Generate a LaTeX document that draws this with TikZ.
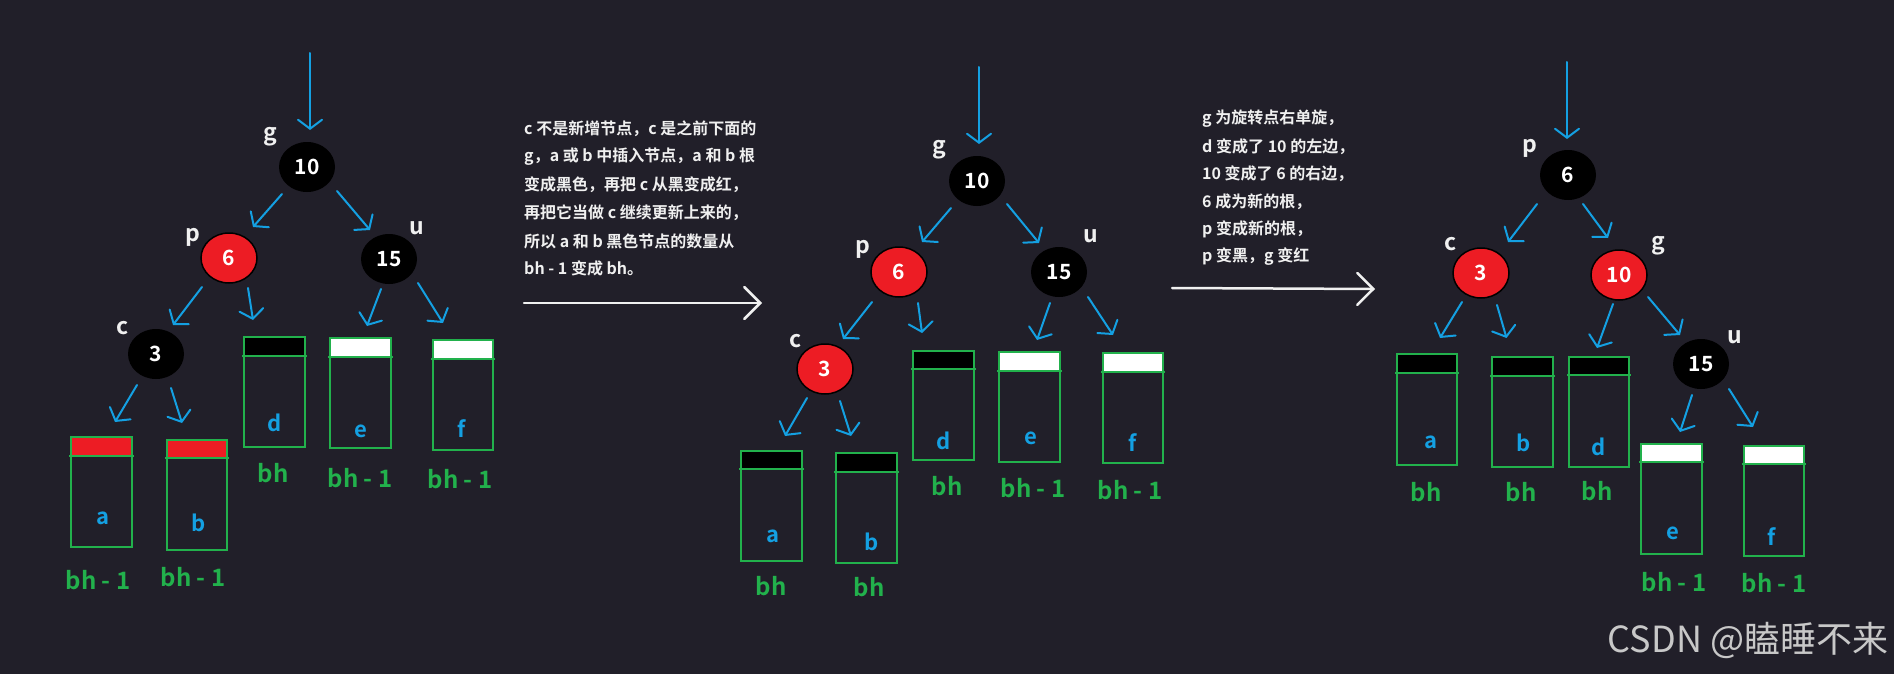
\documentclass[tikz,border=0pt]{standalone}
\usepackage{fontspec}
\setmainfont{Noto Sans CJK SC}[BoldFont={Noto Sans CJK SC Bold}]
\usetikzlibrary{arrows.meta,calc,shapes.geometric}
\definecolor{bgc}{RGB}{33,31,41}
\definecolor{ablue}{RGB}{20,160,226}
\definecolor{lgreen}{RGB}{34,177,76}
\definecolor{nred}{RGB}{237,28,36}
\definecolor{txtw}{RGB}{240,240,240}
\definecolor{wmgray}{RGB}{200,200,200}
\tikzset{
  rbnode/.style={ellipse, minimum width=56pt, minimum height=50pt, inner sep=0pt, text=white,
    font=\fontsize{21}{21}\selectfont\bfseries},
  blk/.style={rbnode, fill=black},
  rd/.style={rbnode, fill=nred, draw=black, line width=1.5pt},
  lab/.style={text=txtw, inner sep=0pt, font=\fontsize{23}{23}\selectfont\bfseries},
  leaf/.style={rectangle, draw=lgreen, line width=2.5pt, outer sep=0pt, inner sep=0pt},
  lett/.style={text=ablue, inner sep=0pt, font=\fontsize{22}{22}\selectfont\bfseries},
  bhl/.style={text=lgreen, inner sep=0pt, font=\fontsize{24}{24}\selectfont\bfseries},
  arr/.style={draw=ablue, line width=2pt, line cap=round, -{Straight Barb[length=9pt,width=24pt,line cap=round]}},
  warr/.style={draw=txtw, line width=2.5pt, line cap=round, -{Straight Barb[length=16pt,width=32pt,line cap=round]}},
  para/.style={text=txtw, inner sep=0pt, anchor=west, font=\fontsize{16}{16}\selectfont\bfseries},
}
\newcommand\leafbox[7]{%
  \node[leaf, minimum width={#4-#2}, minimum height={#5-#3}] (#1) at ({(#2+#4)/2},{(#3+#5)/2}) {};
  \filldraw[fill=#7, draw=lgreen, line width=2.5pt] (#1.north west) rectangle ($(#1.north east)+(0,#6-#3)$);
  \draw[lgreen, line width=2.5pt] ($(#1.north west)+(-2,#6-#3)$) -- ($(#1.north east)+(2,#6-#3)$);
}
\begin{document}
\begin{tikzpicture}[x=1pt,y=-1pt]
\fill[bgc] (0,0) rectangle (1894,674);
\useasboundingbox (0,0) rectangle (1894,674);

% ================= Panel 1 =================
\coordinate (t1) at (310,53);
\node[blk] (n10a) at (307,167) {10};
\node[rd]  (n6a)  at (229,258) {6};
\node[blk] (n15a) at (389,259) {15};
\node[blk] (n3a)  at (156,354) {3};
\node[lab] (lg1) at (270,137) {g};
\node[lab] (lp1) at (193,237) {p};
\node[lab] (lu1) at (417,228) {u};
\node[lab] (lc1) at (123,328) {c};

\leafbox{a1}{71}{437}{132}{547}{456}{nred}
\leafbox{b1}{167}{440}{227}{550}{458}{nred}
\leafbox{d1}{244}{337}{305}{447}{356}{black}
\leafbox{e1}{330}{338}{391}{448}{357}{white}
\leafbox{f1}{433}{340}{493}{450}{359}{white}

\node[lett] (la1) at (103,518) {a};
\node[lett] (lb1) at (199,523) {b};
\node[lett] (ld1) at (275,423) {d};
\node[lett] (le1) at (361,431) {e};
\node[lett] (lf1) at (462,429) {f};
\node[bhl] (ha1) at (98,580) {bh - 1};
\node[bhl] (hb1) at (193,577) {bh - 1};
\node[bhl] (hd1) at (273,473) {bh};
\node[bhl] (he1) at (360,478) {bh - 1};
\node[bhl] (hf1) at (460,479) {bh - 1};

\draw[arr] (t1) -- ($(n10a)+(3,-37)$);
\draw[arr] ($(n10a)+(-25,27)$) -- ($(n6a)+(24,-31)$);
\draw[arr] ($(n10a)+(30,24)$) -- ($(n15a)+(-19,-29)$);
\draw[arr] ($(n6a)+(-27,29)$) -- ($(n3a)+(17,-29)$);
\draw[arr] ($(n6a)+(19,30)$) -- ($(d1.north)+(-21.5,-17)$);
\draw[arr] ($(n15a)+(-8,30)$) -- ($(e1.north)+(6.5,-12)$);
\draw[arr] ($(n15a)+(29,24)$) -- ($(f1.north)+(-20,-17)$);
\draw[arr] ($(n3a)+(-19,31)$) -- ($(a1.north)+(13.5,-15)$);
\draw[arr] ($(n3a)+(15,34)$) -- ($(b1.north)+(-15,-17)$);

% ================= Text 1 =================
\node[para] (p1l1) at (524,129) {c 不是新增节点，c 是之前下面的};
\node[para] (p1l2) at (524,157) {g，a 或 b 中插入节点，a 和 b 根};
\node[para] (p1l3) at (524,185) {变成黑色，再把 c 从黑变成红，};
\node[para] (p1l4) at (524,213) {再把它当做 c 继续更新上来的，};
\node[para] (p1l5) at (524,241) {所以 a 和 b 黑色节点的数量从};
\node[para] (p1l6) at (524,268) {bh - 1 变成 bh。};
\coordinate (w1s) at (524,303);
\coordinate (w1e) at (762,303);
\draw[warr] (w1s) -- (w1e);

% ================= Panel 2 =================
\coordinate (t2) at (979,67);
\node[blk] (n10b) at (977,181) {10};
\node[rd]  (n6b)  at (899,272) {6};
\node[blk] (n15b) at (1059,272) {15};
\node[rd]  (n3b)  at (825,369) {3};
\node[lab] (lg2) at (939,150) {g};
\node[lab] (lp2) at (863,249) {p};
\node[lab] (lu2) at (1091,236) {u};
\node[lab] (lc2) at (796,341) {c};

\leafbox{a2}{741}{451}{802}{561}{469}{black}
\leafbox{b2}{836}{453}{897}{563}{472}{black}
\leafbox{d2}{913}{351}{974}{460}{369}{black}
\leafbox{e2}{999}{352}{1060}{462}{371}{white}
\leafbox{f2}{1103}{353}{1163}{463}{372}{white}

\node[lett] (la2) at (773,536) {a};
\node[lett] (lb2) at (872,542) {b};
\node[lett] (ld2) at (944,441) {d};
\node[lett] (le2) at (1031,438) {e};
\node[lett] (lf2) at (1133,443) {f};
\node[bhl] (ha2) at (771,586) {bh};
\node[bhl] (hb2) at (869,587) {bh};
\node[bhl] (hd2) at (947,486) {bh};
\node[bhl] (he2) at (1033,488) {bh - 1};
\node[bhl] (hf2) at (1130,490) {bh - 1};

\draw[arr] (t2) -- ($(n10b)+(2,-37)$);
\draw[arr] ($(n10b)+(-26,27)$) -- ($(n6b)+(23,-30)$);
\draw[arr] ($(n10b)+(30,23)$) -- ($(n15b)+(-20,-29)$);
\draw[arr] ($(n6b)+(-27,30)$) -- ($(n3b)+(18,-30)$);
\draw[arr] ($(n6b)+(19,31)$) -- ($(d2.north)+(-21.5,-18)$);
\draw[arr] ($(n15b)+(-9,31)$) -- ($(e2.north)+(7.5,-12)$);
\draw[arr] ($(n15b)+(29,25)$) -- ($(f2.north)+(-20,-18)$);
\draw[arr] ($(n3b)+(-18,29)$) -- ($(a2.north)+(13.5,-15)$);
\draw[arr] ($(n3b)+(15,32)$) -- ($(b2.north)+(-15.5,-17)$);

% ================= Text 2 =================
\node[para] (p2l1) at (1202,119) {g 为旋转点右单旋，};
\node[para] (p2l2) at (1202,147) {d 变成了 10 的左边，};
\node[para] (p2l3) at (1202,174) {10 变成了 6 的右边，};
\node[para] (p2l4) at (1202,202) {6 成为新的根，};
\node[para] (p2l5) at (1202,229) {p 变成新的根，};
\node[para] (p2l6) at (1202,257) {p 变黑，g 变红};
\coordinate (w2s) at (1172,288);
\coordinate (w2e) at (1375,289);
\draw[warr] (w2s) -- (w2e);

% ================= Panel 3 =================
\coordinate (t3) at (1567,62);
\node[blk] (n6c)  at (1568,175) {6};
\node[rd]  (n3c)  at (1481,273) {3};
\node[rd]  (n10c) at (1619,275) {10};
\node[blk] (n15c) at (1701,364) {15};
\node[lab] (lp3) at (1530,148) {p};
\node[lab] (lc3) at (1451,244) {c};
\node[lab] (lg3) at (1658,246) {g};
\node[lab] (lu3) at (1735,337) {u};

\leafbox{a3}{1397}{354}{1457}{465}{373}{black}
\leafbox{b3}{1492}{357}{1553}{467}{376}{black}
\leafbox{d3}{1569}{357}{1629}{467}{375}{black}
\leafbox{e3}{1641}{444}{1702}{554}{462}{white}
\leafbox{f3}{1744}{446}{1804}{556}{464}{white}

\node[lett] (la3) at (1431,442) {a};
\node[lett] (lb3) at (1524,443) {b};
\node[lett] (ld3) at (1599,447) {d};
\node[lett] (le3) at (1673,533) {e};
\node[lett] (lf3) at (1772,537) {f};
\node[bhl] (ha3) at (1426,492) {bh};
\node[bhl] (hb3) at (1521,492) {bh};
\node[bhl] (hd3) at (1597,491) {bh};
\node[bhl] (he3) at (1674,582) {bh - 1};
\node[bhl] (hf3) at (1774,583) {bh - 1};

\draw[arr] (t3) -- ($(n6c)+(-1,-36)$);
\draw[arr] ($(n6c)+(-31,29)$) -- ($(n3c)+(27,-31)$);
\draw[arr] ($(n6c)+(15,29)$) -- ($(n10c)+(-11,-37)$);
\draw[arr] ($(n3c)+(-19,29)$) -- ($(a3.north)+(13,-16)$);
\draw[arr] ($(n3c)+(16,32)$) -- ($(b3.north)+(-16,-19)$);
\draw[arr] ($(n10c)+(-6,29)$) -- ($(d3.north)+(-2,-9)$);
\draw[arr] ($(n10c)+(29,22)$) -- ($(n15c)+(-21,-29)$);
\draw[arr] ($(n15c)+(-9,31)$) -- ($(e3.north)+(8.5,-12)$);
\draw[arr] ($(n15c)+(28,25)$) -- ($(f3.north)+(-21,-19)$);

% watermark
\node[text=wmgray, inner sep=0pt, font=\fontsize{36}{36}\selectfont] (wm) at (1748,640) {CSDN @瞌睡不来};
\end{tikzpicture}
\end{document}
